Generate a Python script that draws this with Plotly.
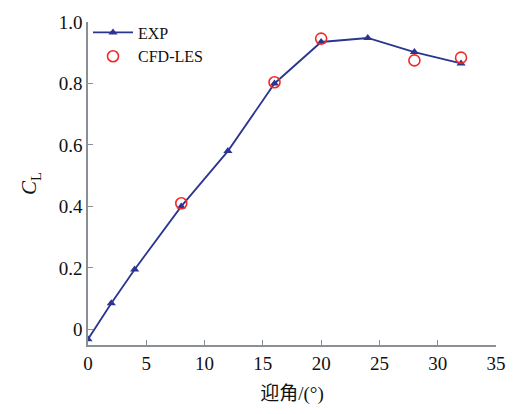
import plotly.graph_objects as go

# Lift coefficient vs. angle of attack
exp_alpha = [0, 2, 4, 8, 12, 16, 20, 24, 28, 32]
exp_cl = [-0.032, 0.085, 0.195, 0.400, 0.580, 0.800, 0.935, 0.948, 0.902, 0.865]

les_alpha = [8, 16, 20, 28, 32]
les_cl = [0.410, 0.804, 0.946, 0.875, 0.884]

x_ticks = [0, 5, 10, 15, 20, 25, 30, 35]
y_ticks = [0, 0.2, 0.4, 0.6, 0.8, 1.0]
y_tick_text = ["0", "0.2", "0.4", "0.6", "0.8", "1.0"]

serif = "Liberation Serif, Times New Roman, Noto Sans CJK SC, serif"
axis_color = "#8a8f96"

fig = go.Figure()
fig.add_trace(go.Scatter(
    x=exp_alpha, y=exp_cl, name="EXP", mode="lines+markers",
    line=dict(color="#2b3590", width=1.8),
    marker=dict(symbol="triangle-up", size=8, color="#2b3590"),
))
fig.add_trace(go.Scatter(
    x=les_alpha, y=les_cl, name="CFD-LES", mode="markers",
    marker=dict(symbol="circle-open", size=11, color="#ee2a2a",
                line=dict(width=1.6, color="#ee2a2a")),
))

fig.update_layout(
    width=527, height=414,
    margin=dict(l=88, r=31, t=15, b=69),
    paper_bgcolor="white", plot_bgcolor="white",
    font=dict(family=serif, size=16, color="#111111"),
    showlegend=True,
    legend=dict(x=0.0, y=1.02, xanchor="left", yanchor="top",
                bgcolor="rgba(0,0,0,0)", font=dict(family=serif, size=16),
                itemwidth=40, tracegroupgap=0),
)
fig.update_xaxes(
    range=[0, 35], tickvals=x_ticks, ticks="inside", ticklen=5,
    tickcolor=axis_color, showline=True, linecolor=axis_color, linewidth=1.5,
    showgrid=False, zeroline=False, tickfont=dict(size=19),
    title=dict(text="迎角/(°)", font=dict(size=19, family=serif), standoff=14),
)
fig.update_yaxes(
    range=[-0.051, 1.0], tickvals=y_ticks, ticktext=y_tick_text,
    ticks="inside", ticklen=5, tickcolor=axis_color,
    showline=True, linecolor=axis_color, linewidth=1.5,
    showgrid=False, zeroline=False, tickfont=dict(size=19),
    title=dict(text="<i>C</i><sub>L</sub>", font=dict(size=21, family=serif),
               standoff=16),
)

fig.write_html("out.html")
